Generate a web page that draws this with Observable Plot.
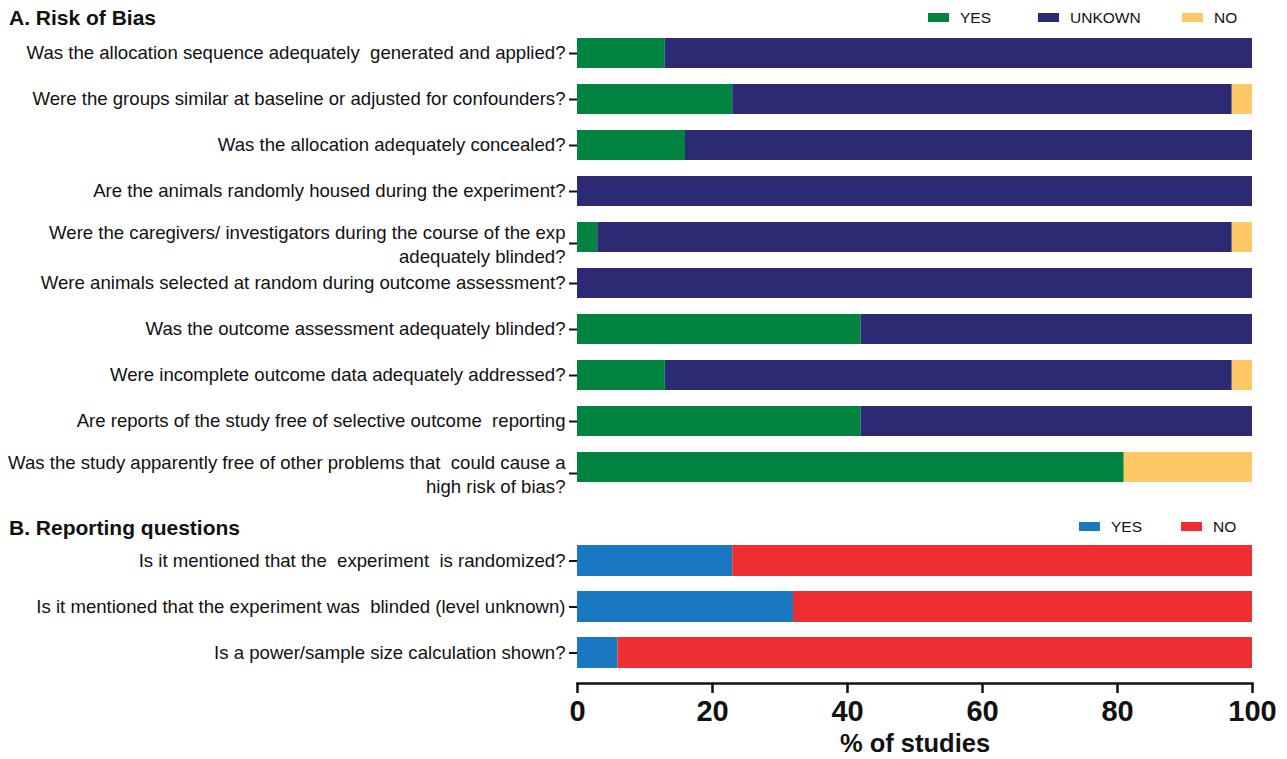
<!DOCTYPE html>
<html>
<head>
<meta charset="utf-8">
<script src="https://cdn.jsdelivr.net/npm/d3@7"></script>
<script src="https://cdn.jsdelivr.net/npm/@observablehq/plot@0.6"></script>
<style>
  html, body { margin: 0; padding: 0; background: #fff; }
  body { font-family: "Liberation Sans", Arial, Helvetica, sans-serif; color: #111; }
  #root { position: relative; width: 1287px; height: 759px; overflow: hidden; background: #fff; }
  #root > svg, #root > .plot { position: absolute; left: 0; }
  .abs { position: absolute; z-index: 5; white-space: nowrap; }
  .title { font-weight: bold; font-size: 21px; line-height: 1; color: #111; }
  .sw { position: absolute; z-index: 5; width: 21px; height: 9px; }
  .lt { position: absolute; z-index: 5; font-size: 15.5px; line-height: 1; color: #111; }
  .xlabel { font-weight: bold; font-size: 25.5px; line-height: 1; color: #111; transform: translateX(-50%); }
  svg text { white-space: pre; }
</style>
</head>
<body>
<div id="root"></div>
<script>
// ---------- data ----------
const questionsA = [
  "Was the allocation sequence adequately  generated and applied?",
  "Were the groups similar at baseline or adjusted for confounders?",
  "Was the allocation adequately concealed?",
  "Are the animals randomly housed during the experiment?",
  "Were the caregivers/ investigators during the course of the exp\nadequately blinded?",
  "Were animals selected at random during outcome assessment?",
  "Was the outcome assessment adequately blinded?",
  "Were incomplete outcome data adequately addressed?",
  "Are reports of the study free of selective outcome  reporting",
  "Was the study apparently free of other problems that  could cause a\nhigh risk of bias?"
];
const yesA     = [13, 23, 16,   0,  3,   0, 42, 13, 42, 81];
const unknownA = [87, 74, 84, 100, 94, 100, 58, 84, 58,  0];
const noA      = [ 0,  3,  0,   0,  3,   0,  0,  3,  0, 19];
const seriesA  = ["YES", "UNKOWN", "NO"];
const colorsA  = ["#00843f", "#2b2a72", "#fec864"];

const questionsB = [
  "Is it mentioned that the  experiment  is randomized?",
  "Is it mentioned that the experiment was  blinded (level unknown)",
  "Is a power/sample size calculation shown?"
];
const yesB    = [23, 32, 6];
const noB     = [77, 68, 94];
const seriesB = ["YES", "NO"];
const colorsB = ["#1a78c2", "#ee2e31"];

const xTicks = [0, 20, 40, 60, 80, 100];
const titleA = "A. Risk of Bias";
const titleB = "B. Reporting questions";
const xTitle = "% of studies";

// ---------- tidy tables ----------
const rowsA = questionsA.flatMap((q, i) => [
  {q, s: "YES", v: yesA[i]},
  {q, s: "UNKOWN", v: unknownA[i]},
  {q, s: "NO", v: noA[i]}
]);
const rowsB = questionsB.flatMap((q, i) => [
  {q, s: "YES", v: yesB[i]},
  {q, s: "NO", v: noB[i]}
]);

const FONT = '"Liberation Sans", Arial, Helvetica, sans-serif';
const INK = "#111";
const LABEL_SIZE = 18.6;
const root = document.getElementById("root");

// ---------- panel A ----------
const singleA = questionsA.filter(d => !d.includes("\n"));
const multiA = questionsA.filter(d => d.includes("\n"));
const plotA = Plot.plot({
  width: 1287,
  height: 515,
  marginLeft: 577,
  marginRight: 35,
  marginTop: 32,
  marginBottom: 26,
  style: {fontFamily: FONT, fontSize: LABEL_SIZE + "px", color: INK, background: "transparent"},
  x: {domain: [0, 100], axis: null},
  y: {domain: questionsA, paddingInner: 0.339, paddingOuter: 0.1, axis: null},
  color: {domain: seriesA, range: colorsA},
  marks: [
    Plot.barX(rowsA, Plot.stackX({y: "q", x: "v", fill: "s", order: seriesA})),
    Plot.ruleX(questionsA, {x: d => 0, y: d => d, insetTop: -8, insetBottom: -8, stroke: INK, strokeWidth: 2.5}),
    Plot.axisY({ticks: singleA, tickSize: 8, tickPadding: 4, strokeWidth: 2, stroke: INK, fill: INK, fontSize: LABEL_SIZE, label: null}),
    Plot.axisY({ticks: multiA, tickSize: 8, tickPadding: 4, strokeWidth: 2, stroke: INK, fill: INK, fontSize: LABEL_SIZE, lineHeight: 1.3, dy: 6, label: null})
  ]
});
plotA.style.top = "0px";
root.appendChild(plotA);

// ---------- panel B ----------
const plotB = Plot.plot({
  width: 1287,
  height: 259,
  marginLeft: 577,
  marginRight: 35,
  marginTop: 45,
  marginBottom: 76,
  style: {fontFamily: FONT, fontSize: LABEL_SIZE + "px", color: INK, background: "transparent"},
  x: {domain: [0, 100], axis: null},
  y: {domain: questionsB, paddingInner: 0.326, paddingOuter: 0.163, align: 0, axis: null},
  color: {domain: seriesB, range: colorsB},
  marks: [
    Plot.barX(rowsB, Plot.stackX({y: "q", x: "v", fill: "s", order: seriesB})),
    Plot.ruleX(questionsB, {x: d => 0, y: d => d, insetTop: -8, insetBottom: -8, stroke: INK, strokeWidth: 2.5}),
    Plot.axisY({tickSize: 8, tickPadding: 4, strokeWidth: 2, stroke: INK, fill: INK, fontSize: LABEL_SIZE, label: null}),
    Plot.frame({anchor: "bottom", stroke: INK, strokeWidth: 2.5}),
    Plot.axisX({ticks: xTicks, tickSize: 10, tickPadding: 7, strokeWidth: 2.5, stroke: INK, fill: INK,
                fontSize: 29, fontWeight: "bold", tickFormat: d => String(d), label: null})
  ]
});
plotB.style.top = "500px";
root.appendChild(plotB);

// ---------- titles and legends ----------
function addText(cls, txt, left, top) {
  const el = document.createElement("div");
  el.className = cls;
  el.textContent = txt;
  el.style.left = left + "px";
  el.style.top = top + "px";
  root.appendChild(el);
  return el;
}
addText("abs title", titleA, 9, 7);
addText("abs title", titleB, 9, 517);
addText("abs xlabel", xTitle, 915, 731);

function legend(series, colors, xs, top) {
  series.forEach((s, i) => {
    const sw = document.createElement("div");
    sw.className = "sw";
    sw.style.background = colors[i];
    sw.style.left = xs[i] + "px";
    sw.style.top = top + "px";
    root.appendChild(sw);
    addText("lt", s, xs[i] + 32, top - 3);
  });
}
legend(seriesA, colorsA, [928, 1038, 1182], 13);
legend(seriesB, colorsB, [1079, 1181], 522);
</script>
</body>
</html>
